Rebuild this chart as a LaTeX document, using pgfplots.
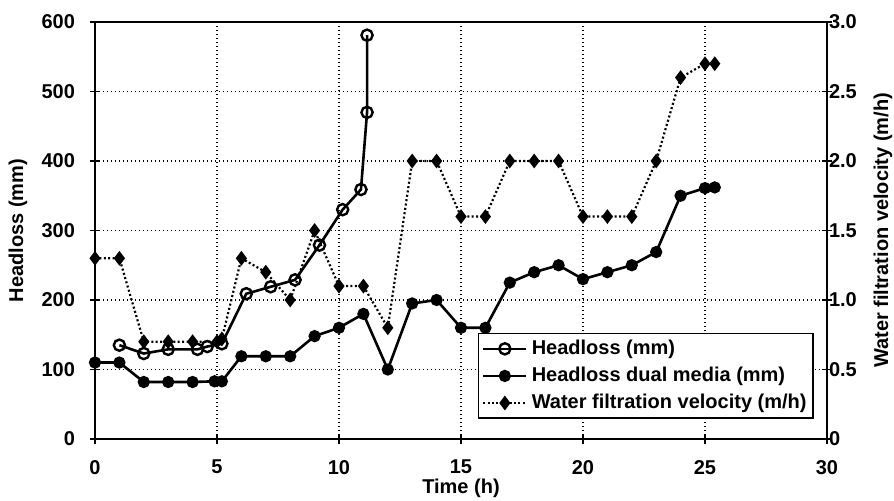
\documentclass[border=0pt]{standalone}
\usepackage{pgfplots}
\pgfplotsset{compat=1.18}
\usepackage{fontspec}
\setmainfont{Liberation Sans}

\tikzset{basefont/.style={font=\fontsize{10}{11}\selectfont\bfseries}}
\pgfplotsset{
  legend image code/.code={\path (-0.02cm,0cm);
    \draw[mark repeat=2,mark phase=2,#1]
    plot coordinates {(0cm,0cm) (0.38cm,0cm) (0.76cm,0cm)};},
}

\begin{document}
\begin{tikzpicture}
\begin{axis}[
  scale only axis, width=366pt, height=208.5pt,
  xmin=0, xmax=30, ymin=0, ymax=600,
  xtick={0,5,...,30}, ytick={0,100,...,600},
  xtick pos=bottom, ytick pos=left,
  tick align=center, major tick length=5pt,
  tick style={black, line width=0.7pt},
  axis line style={line width=0.8pt},
  xmajorgrids, ymajorgrids,
  major grid style={black, line width=0.6pt, dash pattern=on 0.6pt off 1.4pt},
  /pgf/number format/assume math mode=true,
  ticklabel style={basefont},
  xticklabel style={yshift=-4.5pt},
  yticklabel style={xshift=-4pt},
  label style={basefont},
  xlabel={Time (h)}, ylabel={Headloss (mm)},
  xlabel style={at={(rel axis cs:0.5,0)}, anchor=center, yshift=-24.5pt},
  ylabel style={at={(rel axis cs:0,0.5)}, anchor=center, yshift=38.5pt},
]
\coordinate (sw) at (rel axis cs:0,0);
% Headloss (mm)
\addplot[black, line width=1.3pt, mark=o, mark size=2.8pt,
  mark options={solid, fill=white, line width=1.2pt}]
coordinates {
(1,135) (2,123) (3,129) (4.2,129) (4.6,133) (5.2,137) (6.2,209) (7.2,219)
(8.2,229) (9.2,279) (10.15,330) (10.9,359) (11.15,470) (11.15,581)
};
% Headloss dual media (mm)
\addplot[black, line width=1.3pt, mark=*, mark size=2.4pt]
coordinates {
(0,110) (1,110) (2,82) (3,82) (4,82) (4.9,83) (5.2,83) (6,119) (7,119)
(8,119) (9,148) (10,160) (11,180) (12,100) (13,195) (14,200) (15,160)
(16,160) (17,225) (18,240) (19,250) (20,230) (21,240) (22,250) (23,269)
(24,350) (25,361) (25.4,362)
};
\end{axis}

\begin{axis}[
  scale only axis, width=366pt, height=208.5pt,
  xmin=0, xmax=30, ymin=0, ymax=3,
  axis x line=none, axis y line*=right,
  ytick={0,0.5,...,3}, yticklabels={0,0.5,1.0,1.5,2.0,2.5,3.0},
  tick align=center, major tick length=5pt,
  tick style={black, line width=0.7pt},
  axis line style={line width=0.8pt},
  /pgf/number format/assume math mode=true,
  ticklabel style={basefont},
  yticklabel style={xshift=-5pt},
  label style={basefont},
  ylabel={Water filtration velocity (m/h)},
  ylabel style={at={(rel axis cs:1,0.5)}, anchor=center, yshift=-28pt},
  legend cell align=left,
  legend style={at={(0.982,0.048)}, anchor=south east, draw=black,
    line width=0.8pt, basefont, inner sep=1.2pt, row sep=0.8pt},
]
\addlegendimage{black, line width=1.3pt, mark=o, mark size=2.8pt,
  mark options={solid, fill=white, line width=1.2pt}}
\addlegendentry{Headloss (mm)}
\addlegendimage{black, line width=1.3pt, mark=*, mark size=2.4pt}
\addlegendentry{Headloss dual media (mm)}
% Water filtration velocity (m/h)
\addplot[black, line width=1.1pt, dash pattern=on 1pt off 1.2pt,
  mark=diamond*, mark size=2.8pt, mark options={solid}]
coordinates {
(0,1.3) (1,1.3) (2,0.7) (3,0.7) (4,0.7) (5,0.7) (5.2,0.72) (6,1.3)
(7,1.2) (8,1.0) (9,1.5) (10,1.1) (11,1.1) (12,0.8) (13,2.0) (14,2.0)
(15,1.6) (16,1.6) (17,2.0) (18,2.0) (19,2.0) (20,1.6) (21,1.6) (22,1.6)
(23,2.0) (24,2.6) (25,2.7) (25.4,2.7)
};
\addlegendentry{Water filtration velocity (m/h)}
\end{axis}
\pgfresetboundingbox
\path ([shift={(-47.5pt,-31pt)}]sw) rectangle ++(447pt,250.5pt);
\end{tikzpicture}
\end{document}
